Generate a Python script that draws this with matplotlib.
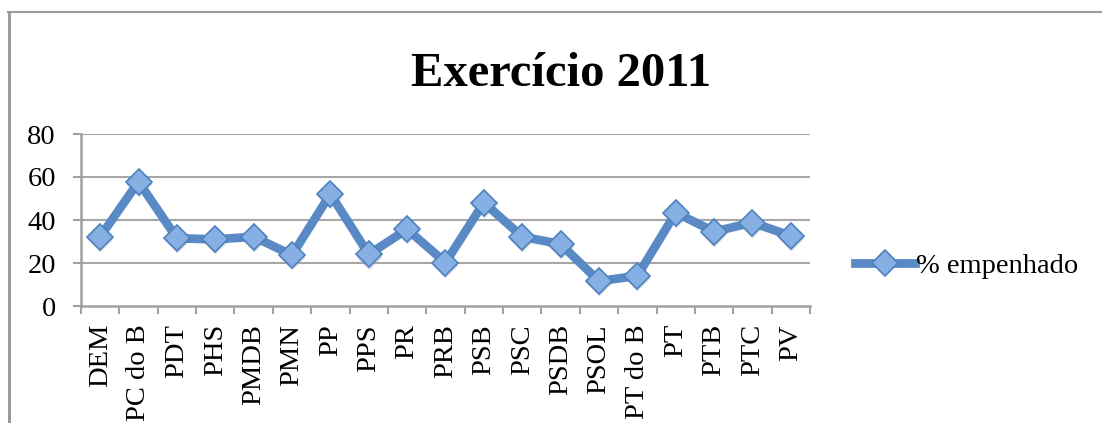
import matplotlib
matplotlib.use("Agg")
import matplotlib.pyplot as plt
import numpy as np
from matplotlib.lines import Line2D

categories = ["DEM", "PC do B", "PDT", "PHS", "PMDB", "PMN", "PP", "PPS", "PR", "PRB",
              "PSB", "PSC", "PSDB", "PSOL", "PT do B", "PT", "PTB", "PTC", "PV"]
values = [32.2, 57.8, 31.5, 31.0, 32.2, 23.7, 52.1, 24.0, 35.7, 20.2,
          48.1, 32.2, 28.8, 11.6, 14.0, 43.4, 34.6, 38.8, 32.6]
yticks = [0, 20, 40, 60, 80]
series_name = "% empenhado"
title = "Exercício 2011"

plt.rcParams['font.family'] = ['Liberation Serif', 'DejaVu Serif']

W, H = 1102, 423
fig = plt.figure(figsize=(W / 100, H / 100), dpi=100)
ax = fig.add_axes([81 / W, 1 - 306 / H, (810 - 81) / W, (306 - 134) / H])

x = np.arange(len(categories))
line_color = '#5A8AC6'
# soft marker shadow
ax.plot(x, np.array(values) - 1.0, linestyle='none', marker='D', markersize=13.5,
        markerfacecolor='#9AA6B4', markeredgecolor='none', alpha=0.35, zorder=2)
ax.plot(x, values, color=line_color, lw=6.3, solid_joinstyle='miter', zorder=3,
        marker='D', markersize=13, markerfacecolor='#86B0E3',
        markeredgecolor='#4F81BD', markeredgewidth=1.2, label=series_name)

ax.set_xlim(-0.5, len(categories) - 0.5)
ax.set_ylim(0, 80)
ax.set_yticks(yticks)
ax.set_yticklabels([str(v) for v in yticks], fontsize=20.5)
ax.set_xticks(x)
ax.set_xticklabels(categories, rotation=90, fontsize=20.5)
ax.set_xticks(np.arange(-0.5, len(categories), 1.0), minor=True)
ax.tick_params(axis='x', which='major', length=0, pad=13)
ax.tick_params(axis='x', which='minor', length=6, width=1.5, color='#A0A0A0')
ax.tick_params(axis='y', length=6, width=1.5, color='#A0A0A0', pad=12)

grid_c = '#A6A6A6'
for v in yticks[1:]:
    ax.axhline(v, color=grid_c, lw=1.5, zorder=1)
for s in ['top', 'right']:
    ax.spines[s].set_visible(False)
for s in ['left', 'bottom']:
    ax.spines[s].set_color('#A0A0A0')
    ax.spines[s].set_linewidth(1.8)

fig.text(561 / W, 1 - 86 / H, title, ha='center', va='baseline',
         fontsize=35, fontweight='bold')

leg = fig.legend(handles=[ax.lines[1]], loc='center left',
                 bbox_to_anchor=(855 / W, 1 - 266 / H),
                 frameon=False, fontsize=20.5, handlelength=2.1, handletextpad=0.05,
                 borderpad=0, borderaxespad=0)

# outer chart frame (partially visible)
fig.add_artist(Line2D([9 / W, 9 / W], [0, 1 - 12 / H], transform=fig.transFigure,
                      color='#9A9A9A', lw=2.2))
fig.add_artist(Line2D([8 / W, 1], [1 - 12 / H, 1 - 12 / H], transform=fig.transFigure,
                      color='#9A9A9A', lw=1.5))

fig.savefig('out.png', dpi=100)
